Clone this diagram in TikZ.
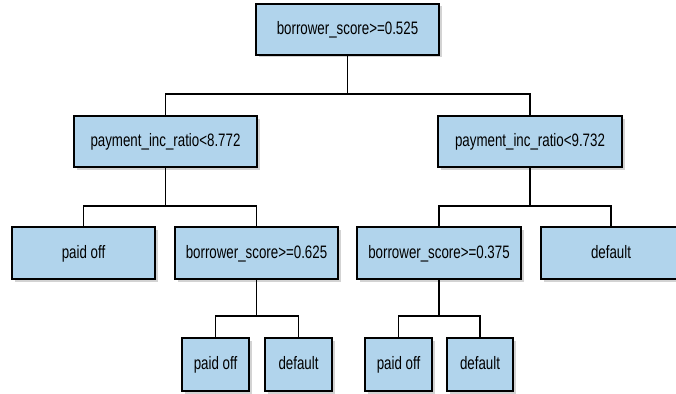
\documentclass[tikz,border=0pt]{standalone}
\usepackage{fontspec}
\setmainfont{Liberation Sans}[FakeStretch=0.74]
\usetikzlibrary{shadows}
\definecolor{leafblue}{RGB}{177,212,236}
\begin{document}
\begin{tikzpicture}[x=1pt,y=-1pt,line width=1.8pt,
    splitnode/.style={rectangle,draw,fill=leafblue,inner sep=0pt,
      minimum height=51pt,font=\fontsize{18}{20}\selectfont,
      text height=13pt,text depth=3pt,
      drop shadow={shadow xshift=2.5pt,shadow yshift=-2.5pt,opacity=0.35}},
    leafnode/.style={splitnode,minimum height=52pt} ]
    \useasboundingbox (0,0) rectangle (676,393);
    \node at (347.5,29.5) [splitnode,minimum width=183pt] (root) {borrower\_score>=0.525};
    \node at (165.5,141.5) [splitnode,minimum width=183pt] (pl) {payment\_inc\_ratio<8.772};
    \node at (530,141.5) [splitnode,minimum width=184pt] (pr) {payment\_inc\_ratio<9.732};
    \node at (83.5,253) [leafnode,minimum width=143pt] (paidA) {paid off};
    \node at (256.5,253) [leafnode,minimum width=163pt] (bl) {borrower\_score>=0.625};
    \node at (439,253) [leafnode,minimum width=164pt] (br) {borrower\_score>=0.375};
    \node at (611,253) [leafnode,minimum width=140pt] (defA) {default};
    \node at (215.5,364.5) [leafnode,minimum width=67pt,minimum height=53pt] (paidB) {paid off};
    \node at (298.5,364.5) [leafnode,minimum width=67pt,minimum height=53pt] (defB) {default};
    \node at (398.5,364.5) [leafnode,minimum width=67pt,minimum height=53pt] (paidC) {paid off};
    \node at (480,364.5) [leafnode,minimum width=66pt,minimum height=53pt] (defC) {default};
    \draw (root.south) -- ++(0,38) -| (pl.north);
    \draw (root.south) -- ++(0,38) -| (pr.north);
    \draw (pl.south) -- ++(0,38) -| (paidA.north);
    \draw (pl.south) -- ++(0,38) -| (bl.north);
    \draw (pr.south) -- ++(0,38) -| (br.north);
    \draw (pr.south) -- ++(0,38) -| (defA.north);
    \draw (bl.south) -- ++(0,36) -| (paidB.north);
    \draw (bl.south) -- ++(0,36) -| (defB.north);
    \draw (br.south) -- ++(0,36) -| (paidC.north);
    \draw (br.south) -- ++(0,36) -| (defC.north);
\end{tikzpicture}
\end{document}
